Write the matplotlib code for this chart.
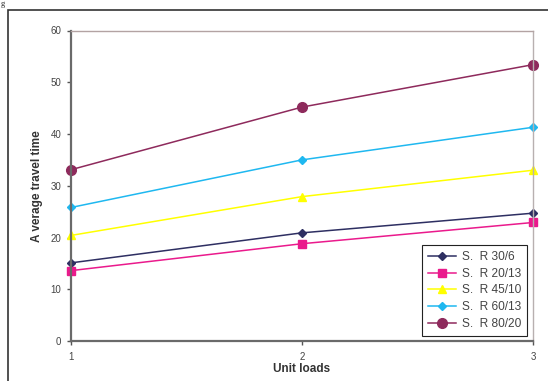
import matplotlib
matplotlib.use("Agg")
import matplotlib.pyplot as plt
from matplotlib.patches import Rectangle

# data
unit_loads = [1, 2, 3]
sr_30_6 = [15.1, 20.9, 24.7]
sr_20_13 = [13.6, 18.8, 22.9]
sr_45_10 = [20.4, 27.9, 33.0]
sr_60_13 = [25.8, 35.0, 41.3]
sr_80_20 = [33.1, 45.2, 53.4]

labels = ['S.  R 30/6', 'S.  R 20/13', 'S.  R 45/10', 'S.  R 60/13', 'S.  R 80/20']
y_ticks = [0, 10, 20, 30, 40, 50, 60]

fig = plt.figure(figsize=(5.48, 3.81), dpi=100)
plt.rcParams['font.family'] = ['Liberation Sans', 'DejaVu Sans']

# outer chart frame (runs off the right and bottom edge)
fig.patches.append(Rectangle((8 / 548, -0.05), 1.2, 1 - 10 / 381 + 0.05,
                             transform=fig.transFigure, fill=False,
                             edgecolor='#333333', linewidth=1.2))

# caption glyph at top-left
fig.text(0.002, 0.999, 'g', fontfamily='Liberation Serif', fontsize=6,
         va='top', ha='left', color='#222222')

ax = fig.add_axes([71 / 548, 1 - 341 / 381, (533 - 71) / 548, (341 - 30.5) / 381])

styles = [
    (sr_30_6, '#2e2f62', 'D', 4.2),
    (sr_20_13, '#ea1a8c', 's', 6.0),
    (sr_45_10, '#ffff00', '^', 6.0),
    (sr_60_13, '#1fb8f0', 'D', 4.2),
    (sr_80_20, '#8e2a5c', 'o', 7.0),
]
for (vals, col, mk, ms), lab in zip(styles, labels):
    ax.plot(unit_loads, vals, color=col, marker=mk, markersize=ms,
            markeredgecolor=col, linewidth=1.1, label=lab, clip_on=False)

ax.set_xlim(1, 3)
ax.set_ylim(0, 60)
ax.set_xticks(unit_loads)
ax.set_yticks(y_ticks)
ax.tick_params(axis='both', labelsize=7, labelcolor='#444444', color='#555555',
               length=3, width=1, direction='out')
ax.tick_params(axis='x', pad=5)
ax.tick_params(axis='y', pad=4)

ax.spines['left'].set_color('#6a6a6a')
ax.spines['left'].set_linewidth(1.6)
ax.spines['bottom'].set_color('#6a6a6a')
ax.spines['bottom'].set_linewidth(1.6)
ax.spines['top'].set_color('#b3a3a3')
ax.spines['top'].set_linewidth(1.0)
ax.spines['right'].set_color('#b8b0b0')
ax.spines['right'].set_linewidth(1.0)

ax.set_xlabel('Unit loads', fontsize=8.5, fontweight='bold', color='#333333', labelpad=1)
ax.set_ylabel('A verage travel time', fontsize=8.5, fontweight='bold', color='#333333', labelpad=5)

leg = ax.legend(loc='lower right', bbox_to_anchor=(527 / 548, 1 - 336 / 381),
                bbox_transform=fig.transFigure, fontsize=8.6, frameon=True,
                fancybox=False, edgecolor='#222222', framealpha=1,
                handlelength=2.3, labelspacing=0.4, borderpad=0.5,
                handletextpad=0.5, borderaxespad=0)
leg.get_frame().set_linewidth(0.8)
for t in leg.get_texts():
    t.set_color('#444444')

fig.savefig('out.png', dpi=100)
